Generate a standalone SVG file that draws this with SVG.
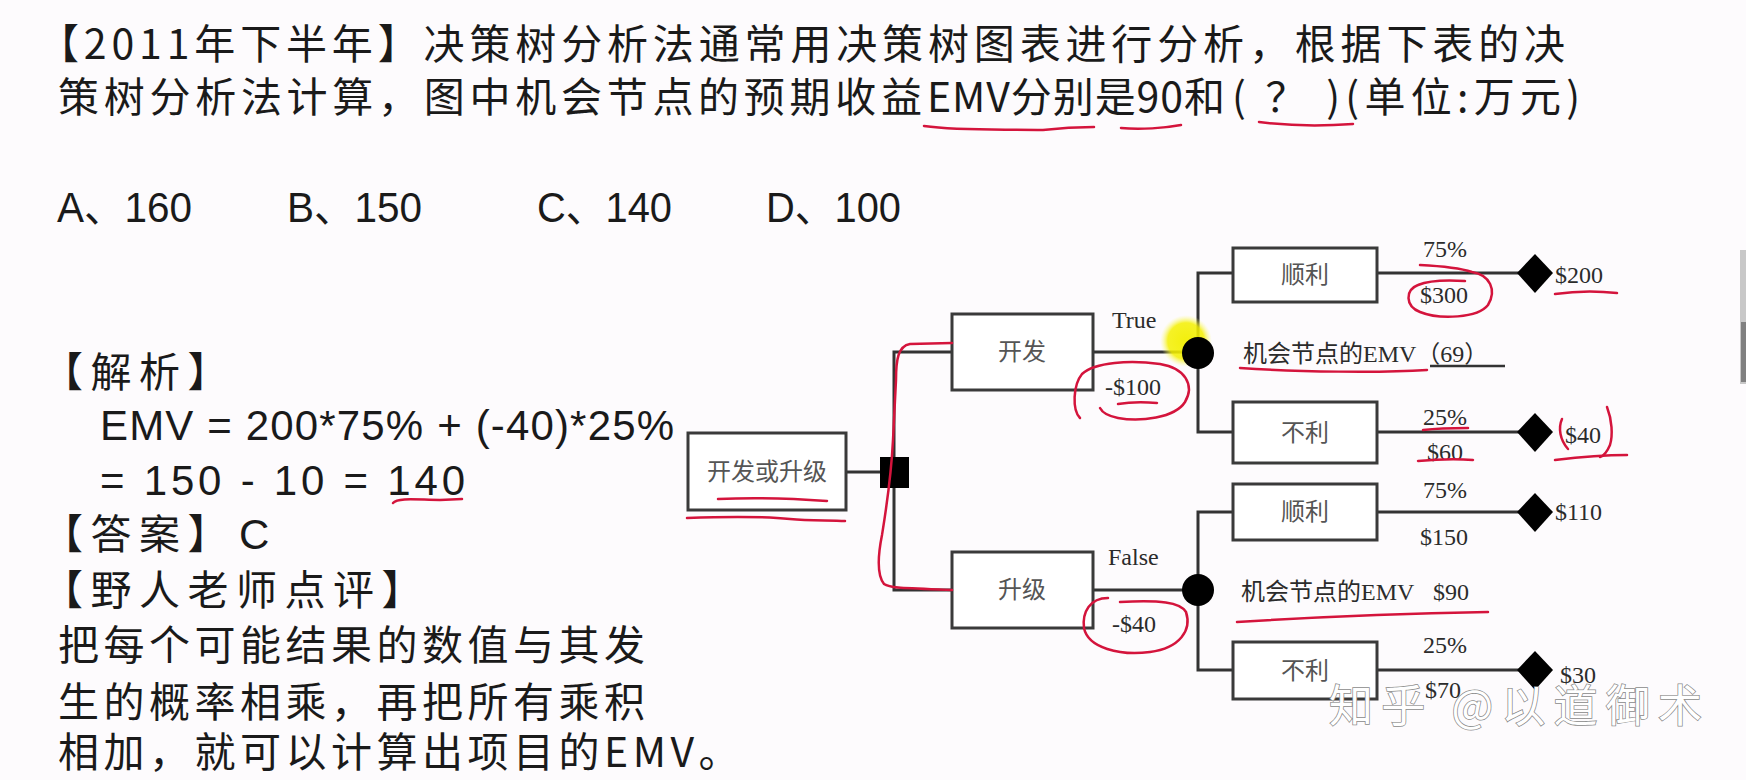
<svg xmlns="http://www.w3.org/2000/svg" width="1746" height="780" viewBox="0 0 1746 780">
<defs>
<style>
.t{font-family:"Noto Sans CJK SC",sans-serif;font-size:41px;fill:#1a1a1a}
.cn{font-family:"Noto Sans CJK SC",sans-serif;font-size:41px;fill:#1a1a1a;letter-spacing:4.5px}
.br{letter-spacing:7.5px}
.opt{font-family:"Liberation Sans","Noto Sans CJK SC",sans-serif;font-size:42px;fill:#1a1a1a;letter-spacing:0}
.box{fill:#fff;stroke:#3a3a3a;stroke-width:3}
.ln{stroke:#333;stroke-width:3;fill:none}
.lbl{font-family:"Liberation Serif","Noto Sans CJK SC",serif;font-size:24px;fill:#2b2b2b}
.blbl{font-family:"Noto Sans CJK SC",sans-serif;font-size:24px;fill:#555;text-anchor:middle}
.red{fill:none;stroke:#d4143c;stroke-width:2.5;stroke-linecap:round;stroke-linejoin:round}
.wm{font-family:"Noto Sans CJK SC",sans-serif;font-size:44px;fill:#fff;stroke:#8a8a8a;stroke-width:1.5;paint-order:stroke}
</style>
<radialGradient id="hl">
<stop offset="0" stop-color="#f2ee00" stop-opacity="0.95"/>
<stop offset="0.7" stop-color="#f4f000" stop-opacity="0.85"/>
<stop offset="1" stop-color="#fbfa90" stop-opacity="0"/>
</radialGradient>
</defs>
<rect width="1746" height="780" fill="#fdfbfd"/>
<rect x="1740" y="250" width="6" height="134" fill="#c8c8c8"/>
<rect x="1741" y="322" width="5" height="60" fill="#808080"/>

<g id="question">
<text class="t" x="38" y="59" textLength="1527" lengthAdjust="spacing">【2011年下半年】决策树分析法通常用决策树图表进行分析，根据下表的决</text>
<text class="t" x="58" y="112" textLength="864" lengthAdjust="spacing">策树分析法计算，图中机会节点的预期收益</text>
<text class="t" x="927" y="112" textLength="298" lengthAdjust="spacing">EMV分别是90和</text>
<text class="t" x="1232" y="112" textLength="348" lengthAdjust="spacing">( ？ )(单位:万元)</text>
</g>

<g id="options">
<text class="opt" x="57" y="222" textLength="135" lengthAdjust="spacingAndGlyphs">A、160</text>
<text class="opt" x="287" y="222" textLength="135" lengthAdjust="spacingAndGlyphs">B、150</text>
<text class="opt" x="537" y="222" textLength="135" lengthAdjust="spacingAndGlyphs">C、140</text>
<text class="opt" x="766" y="222" textLength="135" lengthAdjust="spacingAndGlyphs">D、100</text>
</g>

<g id="analysis">
<text class="cn br" x="42" y="387">【解析】</text>
<text class="opt" x="100" y="440" textLength="574" lengthAdjust="spacing">EMV = 200*75% + (-40)*25%</text>
<text class="opt" x="100" y="495" textLength="365" lengthAdjust="spacing">= 150 - 10 = 140</text>
<text class="cn br" x="42" y="549">【答案】<tspan class="opt" x="239">C</tspan></text>
<text class="cn br" x="42" y="605">【野人老师点评】</text>
<text class="cn" x="58" y="660">把每个可能结果的数值与其发</text>
<text class="cn" x="58" y="717">生的概率相乘，再把所有乘积</text>
<text class="cn" x="58" y="767">相加，就可以计算出项目的EMV。</text>
</g>

<g id="connectors" class="ln">
<path d="M846,472 H880"/>
<path d="M952,352 H894 V590 H952"/>
<path d="M1093,352 H1198"/>
<path d="M1093,590 H1198"/>
<path d="M1233,273 H1198 V432 H1233"/>
<path d="M1233,512 H1198 V670 H1233"/>
<path d="M1377,273 H1520"/>
<path d="M1377,432 H1520"/>
<path d="M1377,512 H1520"/>
<path d="M1377,670 H1520"/>
</g>

<g id="edge-labels" class="lbl">
<text x="1112" y="328">True</text>
<text x="1105" y="395">-$100</text>
<text x="1108" y="565">False</text>
<text x="1112" y="632">-$40</text>
<text x="1423" y="257">75%</text>
<text x="1420" y="303">$300</text>
<text x="1423" y="425">25%</text>
<text x="1427" y="460">$60</text>
<text x="1423" y="498">75%</text>
<text x="1420" y="545">$150</text>
<text x="1423" y="653">25%</text>
<text x="1425" y="698">$70</text>
</g>

<g id="root">
<rect class="box" x="688" y="433" width="158" height="77"/>
<text class="blbl" x="767" y="480">开发或升级</text>
</g>
<g id="decision">
<rect x="880" y="457" width="29" height="31" fill="#000"/>
</g>
<g id="develop">
<rect class="box" x="952" y="314" width="141" height="76"/>
<text class="blbl" x="1022" y="360">开发</text>
</g>
<g id="upgrade">
<rect class="box" x="952" y="552" width="141" height="76"/>
<text class="blbl" x="1022" y="598">升级</text>
</g>

<g id="chance1">
<circle cx="1186" cy="341" r="26" fill="url(#hl)"/>
<circle cx="1198" cy="353" r="16" fill="#000"/>
<text class="lbl" x="1243" y="362">机会节点的EMV（69）</text>
<path d="M1430,366 H1505" stroke="#333" stroke-width="2.5"/>
</g>
<g id="chance2">
<circle cx="1198" cy="590" r="16" fill="#000"/>
<text class="lbl" x="1241" y="600">机会节点的EMV<tspan x="1433">$90</tspan></text>
</g>

<g id="dev-good">
<rect class="box" x="1233" y="248" width="144" height="54"/>
<text class="blbl" x="1305" y="283">顺利</text>
</g>
<g id="dev-bad">
<rect class="box" x="1233" y="402" width="144" height="61"/>
<text class="blbl" x="1305" y="441">不利</text>
</g>
<g id="upg-good">
<rect class="box" x="1233" y="484" width="144" height="56"/>
<text class="blbl" x="1305" y="520">顺利</text>
</g>
<g id="upg-bad">
<rect class="box" x="1233" y="642" width="144" height="57"/>
<text class="blbl" x="1305" y="679">不利</text>
</g>

<g id="end1">
<path d="M1535,254 L1553,273 L1535,293 L1517,273 Z" fill="#000"/>
<text class="lbl" x="1555" y="283">$200</text>
</g>
<g id="end2">
<path d="M1535,413 L1553,432 L1535,452 L1517,432 Z" fill="#000"/>
<text class="lbl" x="1565" y="443">$40</text>
</g>
<g id="end3">
<path d="M1535,493 L1553,512 L1535,532 L1517,512 Z" fill="#000"/>
<text class="lbl" x="1555" y="520">$110</text>
</g>
<g id="end4">
<path d="M1535,651 L1553,670 L1535,690 L1517,670 Z" fill="#000"/>
<text class="lbl" x="1560" y="683">$30</text>
</g>

<g id="annotations" class="red">
<path d="M924,126 C960,131 1000,129 1043,130 C1060,128 1080,127 1094,127"/>
<path d="M1121,128 C1140,130 1165,128 1181,125"/>
<path d="M1259,122 C1290,126 1325,126 1353,124"/>
<path d="M393,503 C398,497 420,500 440,500 L462,499"/>
<path d="M718,499 C760,497 800,499 827,501"/>
<path d="M687,518 C740,516 770,517 790,519 C810,521 830,520 845,521"/>
<path d="M952,343 L910,344 C898,346 896,360 896,380 L893,440 C891,480 886,510 882,535 C878,555 877,575 884,584 C890,588 900,588 952,590"/>
<path d="M1080,418 C1072,410 1073,385 1082,374 C1095,362 1130,360 1160,364 C1185,368 1195,385 1185,402 C1175,418 1140,422 1118,418 C1108,416 1102,412 1100,408"/>
<path d="M1118,404 C1130,402 1145,402 1157,403"/>
<path d="M1108,598 C1090,598 1082,612 1084,628 C1088,648 1120,656 1150,652 C1180,648 1192,630 1186,612 C1180,602 1160,600 1120,602"/>
<path d="M1420,265 C1440,266 1460,268 1472,272 C1490,275 1497,290 1488,305 C1478,318 1440,320 1420,312 C1405,306 1405,290 1418,285 C1430,280 1450,280 1465,281"/>
<path d="M1555,294 C1575,291 1600,291 1617,293"/>
<path d="M1240,368 C1300,372 1380,373 1427,370"/>
<path d="M1423,430 C1440,428 1455,428 1468,428"/>
<path d="M1418,461 C1440,459 1460,459 1473,460"/>
<path d="M1562,419 C1558,428 1560,440 1568,449"/>
<path d="M1607,407 C1612,420 1613,435 1610,445 C1607,452 1604,456 1600,457"/>
<path d="M1555,460 C1580,457 1605,455 1627,455"/>
<path d="M1237,622 C1300,618 1380,614 1488,612"/>
</g>

<text class="wm" x="1329" y="722" textLength="373" lengthAdjust="spacing">知乎 @以道御术</text>
</svg>
